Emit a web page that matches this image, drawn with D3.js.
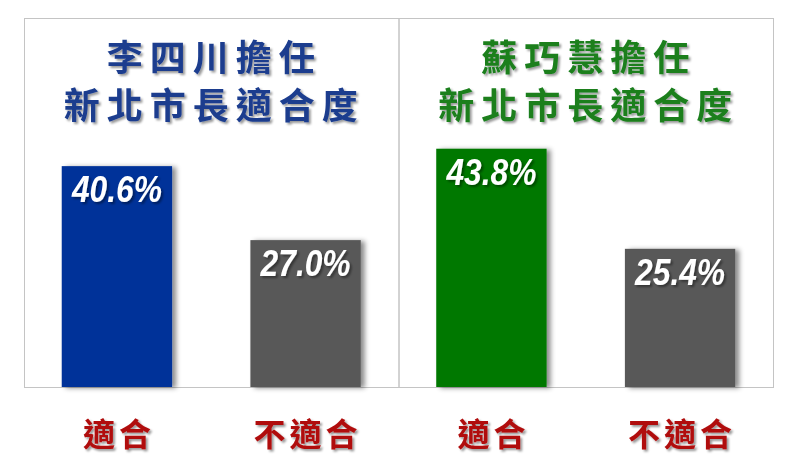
<html>
<head>
    <meta charset="utf-8">
    <script type="text/javascript" src="https://cdnjs.cloudflare.com/ajax/libs/d3/7.8.5/d3.min.js"></script>
    <style>
        body { margin: 0; background: #fff; }
        .title { font-family: "Noto Sans CJK TC", sans-serif; font-weight: 700; font-size: 36px; letter-spacing: 7px; text-anchor: middle; }
        .value { font-family: "Liberation Sans", sans-serif; font-weight: bold; font-style: italic; font-size: 36px; fill: #fff; text-anchor: middle; }
        .cat { font-family: "Noto Sans CJK TC", sans-serif; font-weight: 700; font-size: 32px; letter-spacing: 4px; fill: #b00d0d; text-anchor: middle; }
    </style>
</head>
<body>
<script type="text/javascript">

    // data
    var titleLine1 = ["李四川擔任", "蘇巧慧擔任"];
    var titleLine2 = ["新北市長適合度", "新北市長適合度"];
    var categories = ["適合", "不適合"];
    var valuesLee = [40.6, 27.0];
    var valuesSu = [43.8, 25.4];

    var panelValues = [valuesLee, valuesSu];
    var titleColors = ["#1b3c8e", "#1a7f1e"];
    var mainColors = ["#003399", "#007800"];
    var greyColor = "#595959";

    var width = 800, height = 469;
    var frameTop = 18, baseline = 387;

    var svg = d3.select("body").append("svg").attr("width", width).attr("height", height);

    var defs = svg.append("defs");
    var sh = defs.append("filter").attr("id", "barShadow")
        .attr("x", "-10%").attr("y", "-10%").attr("width", "130%").attr("height", "120%");
    sh.append("feDropShadow").attr("dx", 4).attr("dy", 1).attr("stdDeviation", 2.5)
        .attr("flood-color", "#000").attr("flood-opacity", 0.45);
    var tsh = defs.append("filter").attr("id", "textShadow");
    tsh.append("feDropShadow").attr("dx", 2).attr("dy", 2).attr("stdDeviation", 1.2)
        .attr("flood-color", "#000").attr("flood-opacity", 0.4);

    var xPanel = d3.scaleBand()
        .domain(d3.range(panelValues.length))
        .range([24, 773]);

    var xCat = d3.scaleBand()
        .domain(categories)
        .range([0, xPanel.bandwidth()])
        .paddingInner(0.415)
        .paddingOuter(0.2);

    var yScale = d3.scaleLinear()
        .domain([0, 50])
        .range([baseline, baseline - 272]);

    var fmt = d3.format(".1f");

    var panels = svg.selectAll("g.panel")
        .data(panelValues)
        .enter()
        .append("g")
        .attr("class", "panel")
        .attr("transform", function (d, i) { return "translate(" + xPanel(i) + ",0)"; });

    // frame
    panels.append("rect")
        .attr("x", 0.5)
        .attr("y", frameTop + 0.5)
        .attr("width", xPanel.bandwidth())
        .attr("height", baseline - frameTop)
        .attr("fill", "none")
        .attr("stroke", "#c4c4c4")
        .attr("stroke-width", 1);

    // titles
    panels.append("text")
        .attr("class", "title")
        .attr("x", xPanel.bandwidth() / 2 + 3)
        .attr("y", 71)
        .attr("fill", function (d, i) { return titleColors[i]; })
        .attr("filter", "url(#textShadow)")
        .text(function (d, i) { return titleLine1[i]; });

    panels.append("text")
        .attr("class", "title")
        .attr("x", xPanel.bandwidth() / 2 + 3)
        .attr("y", 119)
        .attr("fill", function (d, i) { return titleColors[i]; })
        .attr("filter", "url(#textShadow)")
        .text(function (d, i) { return titleLine2[i]; });

    // bars
    panels.each(function (vals, pi) {
        var g = d3.select(this);
        var rows = categories.map(function (c, j) { return {cat: c, value: vals[j], idx: j}; });

        g.selectAll("rect.bar")
            .data(rows)
            .enter()
            .append("rect")
            .attr("class", "bar")
            .attr("x", function (d) { return xCat(d.cat); })
            .attr("y", function (d) { return yScale(d.value); })
            .attr("width", xCat.bandwidth())
            .attr("height", function (d) { return baseline - yScale(d.value); })
            .attr("fill", function (d) { return d.idx === 0 ? mainColors[pi] : greyColor; })
            .attr("filter", "url(#barShadow)");

        g.selectAll("text.value")
            .data(rows)
            .enter()
            .append("text")
            .attr("class", "value")
            .attr("x", function (d) { return xCat(d.cat) + xCat.bandwidth() / 2; })
            .attr("y", function (d) { return yScale(d.value) + 36; })
            .attr("textLength", 90)
            .attr("lengthAdjust", "spacingAndGlyphs")
            .attr("filter", "url(#textShadow)")
            .text(function (d) { return fmt(d.value) + "%"; });

        g.selectAll("text.cat")
            .data(rows)
            .enter()
            .append("text")
            .attr("class", "cat")
            .attr("x", function (d) { return xCat(d.cat) + xCat.bandwidth() / 2 + 2; })
            .attr("y", 446)
            .attr("filter", "url(#textShadow)")
            .text(function (d) { return d.cat; });
    });

</script>
</body>
</html>
